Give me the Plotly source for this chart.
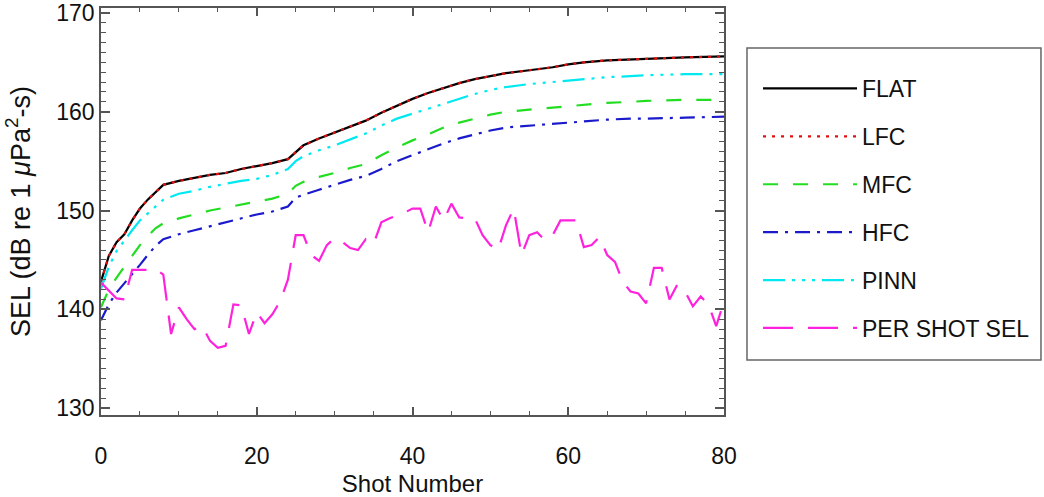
import plotly.graph_objects as go

# ---- data ----
model_shots = [0, 1, 2, 3, 4, 5, 6, 7, 8, 10, 12, 14, 16, 18, 20, 22, 24, 25, 26, 28, 30,
               32, 34, 36, 38, 40, 42, 44, 46, 48, 50, 52, 55, 58, 60, 62, 65, 68, 70, 75, 80]

flat = [142.8, 145.4, 146.8, 147.6, 149.0, 150.2, 151.1, 151.9, 152.6, 153.0, 153.3, 153.6,
        153.8, 154.2, 154.5, 154.8, 155.2, 155.9, 156.6, 157.3, 157.9, 158.5, 159.1, 159.9,
        160.6, 161.3, 161.9, 162.4, 162.9, 163.3, 163.6, 163.9, 164.2, 164.5, 164.8, 165.0,
        165.2, 165.3, 165.4, 165.5, 165.6]

lfc = [142.8, 145.4, 146.8, 147.6, 149.0, 150.2, 151.1, 151.9, 152.6, 153.0, 153.3, 153.6,
       153.8, 154.2, 154.5, 154.8, 155.2, 155.9, 156.6, 157.3, 157.9, 158.5, 159.1, 159.9,
       160.6, 161.3, 161.9, 162.4, 162.9, 163.3, 163.6, 163.9, 164.2, 164.5, 164.8, 165.0,
       165.2, 165.3, 165.4, 165.5, 165.6]

mfc = [140.2, 142.0, 143.2, 144.3, 145.5, 146.5, 147.4, 148.2, 148.7, 149.2, 149.6, 150.0,
       150.3, 150.6, 150.9, 151.2, 151.7, 152.5, 152.9, 153.4, 153.8, 154.3, 154.7, 155.6,
       156.4, 157.1, 157.7, 158.4, 158.9, 159.3, 159.7, 160.0, 160.2, 160.4, 160.5, 160.7,
       160.9, 161.0, 161.1, 161.2, 161.2]

hfc = [138.9, 140.5, 141.7, 142.6, 143.5, 144.5, 145.5, 146.4, 147.1, 147.6, 148.0, 148.4,
       148.8, 149.2, 149.6, 149.9, 150.4, 151.3, 151.6, 152.1, 152.6, 153.1, 153.5, 154.2,
       155.0, 155.6, 156.2, 156.8, 157.3, 157.7, 158.1, 158.4, 158.6, 158.8, 158.9, 159.0,
       159.2, 159.3, 159.3, 159.4, 159.5]

pinn = [142.1, 144.3, 145.9, 147.0, 148.0, 149.0, 149.7, 150.5, 151.1, 151.7, 152.0, 152.4,
        152.7, 153.0, 153.2, 153.6, 154.2, 155.0, 155.5, 156.1, 156.6, 157.2, 157.8, 158.6,
        159.3, 159.8, 160.3, 160.8, 161.3, 161.8, 162.2, 162.5, 162.8, 163.0, 163.2, 163.3,
        163.5, 163.6, 163.7, 163.8, 163.8]

per_shot_x = list(range(0, 81))
per_shot_sel = [142.7, 141.9, 141.1, 141.0, 144.0, 144.0, 144.0, 144.1, 143.5, 137.5,
                140.2, 139.0, 138.0, 138.3, 136.8, 136.1, 136.3, 140.5, 140.4, 137.5,
                139.7, 138.6, 139.5, 140.8, 143.0, 147.5, 147.5, 145.5, 144.9, 146.5,
                147.2, 146.8, 146.2, 146.0, 147.1, 146.6, 148.8, 149.2, 149.5, 149.8,
                150.2, 150.2, 147.8, 150.4, 149.0, 150.7, 149.3, 149.2, 149.2, 147.5,
                146.5, 146.0, 148.5, 150.2, 145.5, 147.5, 147.8, 147.0, 147.5, 149.0,
                149.0, 149.0, 146.3, 146.5, 147.3, 145.5, 144.8, 142.8, 141.8, 141.6,
                140.6, 144.2, 144.2, 141.0, 142.5, 141.8, 140.3, 141.3, 140.5, 138.3,
                140.8]

x_ticks = [0, 20, 40, 60, 80]
y_ticks = [130, 140, 150, 160, 170]

FONT = "Liberation Sans, Arial, Helvetica, sans-serif"

fig = go.Figure()

series = [
    ("FLAT", model_shots, flat, "#000000", "solid"),
    ("LFC", model_shots, lfc, "#e01010", "3px,6px"),
    ("MFC", model_shots, mfc, "#22dd22", "15px,15px"),
    ("HFC", model_shots, hfc, "#1a1acc", "15px,7px,3px,7px"),
    ("PINN", model_shots, pinn, "#00e8f0", "22px,7px,3px,7px,3px,7px,3px,7px"),
    ("PER SHOT SEL", per_shot_x, per_shot_sel, "#ff22dd", "30px,15px"),
]

for i, (name, xs, ys, col, dash) in enumerate(series):
    fig.add_trace(go.Scatter(
        x=xs, y=ys, name=name, mode="lines",
        line=dict(color=col, width=2.2, dash=dash),
        legendgroup=f"g{i}",
    ))

axis_col = "#555555"
fig.update_layout(
    width=1044, height=497, autosize=False,
    margin=dict(l=101, r=320, t=8, b=82),
    paper_bgcolor="white", plot_bgcolor="white",
    font=dict(family=FONT, size=23, color="#111111"),
    showlegend=True,
    legend=dict(
        x=1.0546, y=0.855, xanchor="left", yanchor="top",
        borderwidth=0, bgcolor="rgba(0,0,0,0)",
        font=dict(family=FONT, size=23, color="#111111"),
        tracegroupgap=15,
        itemwidth=94,
    ),
    # legend frame
    shapes=[dict(type="rect", xref="paper", yref="paper",
                 x0=1.0369, x1=1.5088, y0=0.1351, y1=0.9017,
                 line=dict(color="#666666", width=1.5), fillcolor="rgba(0,0,0,0)")],
    xaxis=dict(
        range=[0, 80], tickvals=x_ticks, ticks="inside", ticklen=8, tickwidth=1.5,
        tickcolor=axis_col, showline=True, linecolor=axis_col, linewidth=1.5,
        mirror="ticks", showgrid=False, zeroline=False, automargin=False,
        minor=dict(dtick=5, ticks="inside", ticklen=4, tickwidth=1.2, tickcolor=axis_col, showgrid=False),
        tickfont=dict(size=23), ticklabelstandoff=20, ticklabeloverflow="allow",
        title=dict(text="Shot Number", font=dict(size=24), standoff=11),
    ),
    yaxis=dict(
        range=[129.3, 170.5], tickvals=y_ticks, ticks="inside", ticklen=9, tickwidth=1.5,
        tickcolor=axis_col, showline=True, linecolor=axis_col, linewidth=1.5,
        mirror="ticks", showgrid=False, zeroline=False, automargin=False,
        minor=dict(dtick=1, ticks="inside", ticklen=5, tickwidth=1.2, tickcolor=axis_col, showgrid=False),
        tickfont=dict(size=23), ticklabelstandoff=0, ticklabeloverflow="allow",
        title=dict(text="SEL (dB re 1 <i>μ</i>Pa<sup>2</sup>-s)", font=dict(size=27), standoff=18),
    ),
)

fig.write_html("out.html", config={"displayModeBar": False},
               post_script="document.body.style.margin='0px';")
